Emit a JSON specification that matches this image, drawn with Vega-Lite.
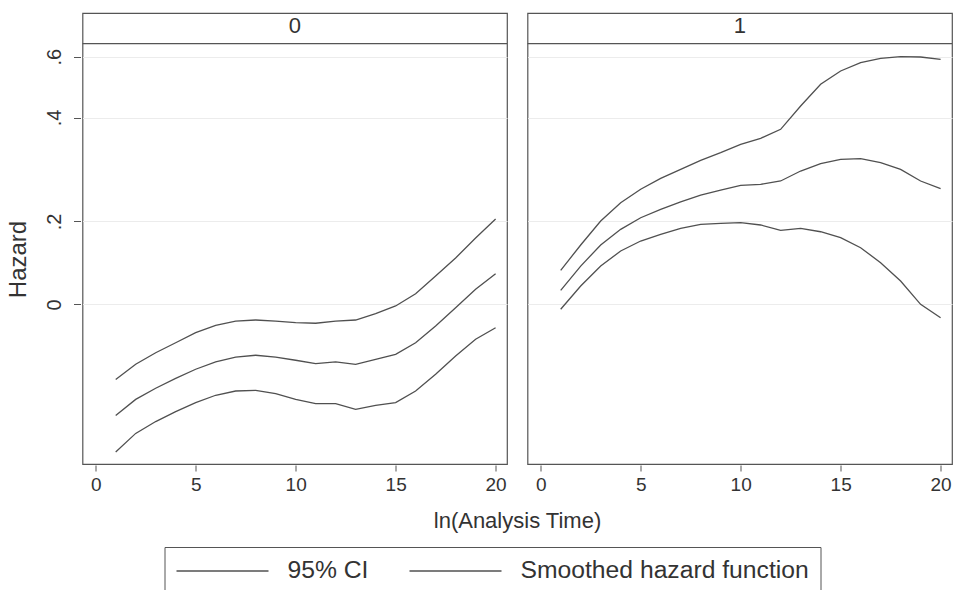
{
  "$schema": "https://vega.github.io/schema/vega-lite/v6.json",
  "padding": {"left": 6.5, "top": 12, "right": 0, "bottom": 0},
  "background": "white",
  "data": {"values": [
    {"g":"0","t":1,"s":"hi","k":"95% CI","h":0.0698},{"g":"0","t":2,"s":"hi","k":"95% CI","h":0.0772},{"g":"0","t":3,"s":"hi","k":"95% CI","h":0.0834},{"g":"0","t":4,"s":"hi","k":"95% CI","h":0.0891},{"g":"0","t":5,"s":"hi","k":"95% CI","h":0.0953},{"g":"0","t":6,"s":"hi","k":"95% CI","h":0.1001},{"g":"0","t":7,"s":"hi","k":"95% CI","h":0.1030},{"g":"0","t":8,"s":"hi","k":"95% CI","h":0.1037},{"g":"0","t":9,"s":"hi","k":"95% CI","h":0.1030},{"g":"0","t":10,"s":"hi","k":"95% CI","h":0.1019},{"g":"0","t":11,"s":"hi","k":"95% CI","h":0.1015},{"g":"0","t":12,"s":"hi","k":"95% CI","h":0.1030},{"g":"0","t":13,"s":"hi","k":"95% CI","h":0.1037},{"g":"0","t":14,"s":"hi","k":"95% CI","h":0.1082},{"g":"0","t":15,"s":"hi","k":"95% CI","h":0.1139},{"g":"0","t":16,"s":"hi","k":"95% CI","h":0.1236},{"g":"0","t":17,"s":"hi","k":"95% CI","h":0.1391},{"g":"0","t":18,"s":"hi","k":"95% CI","h":0.1568},{"g":"0","t":19,"s":"hi","k":"95% CI","h":0.1791},{"g":"0","t":20,"s":"hi","k":"95% CI","h":0.2033},
    {"g":"0","t":1,"s":"hz","k":"Smoothed hazard function","h":0.0549},{"g":"0","t":2,"s":"hz","k":"Smoothed hazard function","h":0.0611},{"g":"0","t":3,"s":"hz","k":"Smoothed hazard function","h":0.0658},{"g":"0","t":4,"s":"hz","k":"Smoothed hazard function","h":0.0703},{"g":"0","t":5,"s":"hz","k":"Smoothed hazard function","h":0.0747},{"g":"0","t":6,"s":"hz","k":"Smoothed hazard function","h":0.0785},{"g":"0","t":7,"s":"hz","k":"Smoothed hazard function","h":0.0810},{"g":"0","t":8,"s":"hz","k":"Smoothed hazard function","h":0.0820},{"g":"0","t":9,"s":"hz","k":"Smoothed hazard function","h":0.0810},{"g":"0","t":10,"s":"hz","k":"Smoothed hazard function","h":0.0793},{"g":"0","t":11,"s":"hz","k":"Smoothed hazard function","h":0.0775},{"g":"0","t":12,"s":"hz","k":"Smoothed hazard function","h":0.0785},{"g":"0","t":13,"s":"hz","k":"Smoothed hazard function","h":0.0772},{"g":"0","t":14,"s":"hz","k":"Smoothed hazard function","h":0.0798},{"g":"0","t":15,"s":"hz","k":"Smoothed hazard function","h":0.0825},{"g":"0","t":16,"s":"hz","k":"Smoothed hazard function","h":0.0891},{"g":"0","t":17,"s":"hz","k":"Smoothed hazard function","h":0.0997},{"g":"0","t":18,"s":"hz","k":"Smoothed hazard function","h":0.1126},{"g":"0","t":19,"s":"hz","k":"Smoothed hazard function","h":0.1273},{"g":"0","t":20,"s":"hz","k":"Smoothed hazard function","h":0.1412},
    {"g":"0","t":1,"s":"lo","k":"95% CI","h":0.0430},{"g":"0","t":2,"s":"lo","k":"95% CI","h":0.0487},{"g":"0","t":3,"s":"lo","k":"95% CI","h":0.0527},{"g":"0","t":4,"s":"lo","k":"95% CI","h":0.0563},{"g":"0","t":5,"s":"lo","k":"95% CI","h":0.0598},{"g":"0","t":6,"s":"lo","k":"95% CI","h":0.0628},{"g":"0","t":7,"s":"lo","k":"95% CI","h":0.0646},{"g":"0","t":8,"s":"lo","k":"95% CI","h":0.0649},{"g":"0","t":9,"s":"lo","k":"95% CI","h":0.0635},{"g":"0","t":10,"s":"lo","k":"95% CI","h":0.0611},{"g":"0","t":11,"s":"lo","k":"95% CI","h":0.0594},{"g":"0","t":12,"s":"lo","k":"95% CI","h":0.0594},{"g":"0","t":13,"s":"lo","k":"95% CI","h":0.0572},{"g":"0","t":14,"s":"lo","k":"95% CI","h":0.0587},{"g":"0","t":15,"s":"lo","k":"95% CI","h":0.0598},{"g":"0","t":16,"s":"lo","k":"95% CI","h":0.0646},{"g":"0","t":17,"s":"lo","k":"95% CI","h":0.0722},{"g":"0","t":18,"s":"lo","k":"95% CI","h":0.0816},{"g":"0","t":19,"s":"lo","k":"95% CI","h":0.0912},{"g":"0","t":20,"s":"lo","k":"95% CI","h":0.0985},
    {"g":"1","t":1,"s":"hi","k":"95% CI","h":0.1444},{"g":"1","t":2,"s":"hi","k":"95% CI","h":0.1710},{"g":"1","t":3,"s":"hi","k":"95% CI","h":0.2007},{"g":"1","t":4,"s":"hi","k":"95% CI","h":0.2267},{"g":"1","t":5,"s":"hi","k":"95% CI","h":0.2479},{"g":"1","t":6,"s":"hi","k":"95% CI","h":0.2667},{"g":"1","t":7,"s":"hi","k":"95% CI","h":0.2832},{"g":"1","t":8,"s":"hi","k":"95% CI","h":0.3007},{"g":"1","t":9,"s":"hi","k":"95% CI","h":0.3164},{"g":"1","t":10,"s":"hi","k":"95% CI","h":0.3346},{"g":"1","t":11,"s":"hi","k":"95% CI","h":0.3483},{"g":"1","t":12,"s":"hi","k":"95% CI","h":0.3698},{"g":"1","t":13,"s":"hi","k":"95% CI","h":0.4319},{"g":"1","t":14,"s":"hi","k":"95% CI","h":0.4992},{"g":"1","t":15,"s":"hi","k":"95% CI","h":0.5455},{"g":"1","t":16,"s":"hi","k":"95% CI","h":0.5765},{"g":"1","t":17,"s":"hi","k":"95% CI","h":0.5936},{"g":"1","t":18,"s":"hi","k":"95% CI","h":0.6000},{"g":"1","t":19,"s":"hi","k":"95% CI","h":0.5988},{"g":"1","t":20,"s":"hi","k":"95% CI","h":0.5897},
    {"g":"1","t":1,"s":"hz","k":"Smoothed hazard function","h":0.1264},{"g":"1","t":2,"s":"hz","k":"Smoothed hazard function","h":0.1486},{"g":"1","t":3,"s":"hz","k":"Smoothed hazard function","h":0.1710},{"g":"1","t":4,"s":"hz","k":"Smoothed hazard function","h":0.1898},{"g":"1","t":5,"s":"hz","k":"Smoothed hazard function","h":0.2051},{"g":"1","t":6,"s":"hz","k":"Smoothed hazard function","h":0.2169},{"g":"1","t":7,"s":"hz","k":"Smoothed hazard function","h":0.2278},{"g":"1","t":8,"s":"hz","k":"Smoothed hazard function","h":0.2386},{"g":"1","t":9,"s":"hz","k":"Smoothed hazard function","h":0.2467},{"g":"1","t":10,"s":"hz","k":"Smoothed hazard function","h":0.2546},{"g":"1","t":11,"s":"hz","k":"Smoothed hazard function","h":0.2563},{"g":"1","t":12,"s":"hz","k":"Smoothed hazard function","h":0.2620},{"g":"1","t":13,"s":"hz","k":"Smoothed hazard function","h":0.2800},{"g":"1","t":14,"s":"hz","k":"Smoothed hazard function","h":0.2940},{"g":"1","t":15,"s":"hz","k":"Smoothed hazard function","h":0.3028},{"g":"1","t":16,"s":"hz","k":"Smoothed hazard function","h":0.3040},{"g":"1","t":17,"s":"hz","k":"Smoothed hazard function","h":0.2960},{"g":"1","t":18,"s":"hz","k":"Smoothed hazard function","h":0.2832},{"g":"1","t":19,"s":"hz","k":"Smoothed hazard function","h":0.2620},{"g":"1","t":20,"s":"hz","k":"Smoothed hazard function","h":0.2489},
    {"g":"1","t":1,"s":"lo","k":"95% CI","h":0.1114},{"g":"1","t":2,"s":"lo","k":"95% CI","h":0.1301},{"g":"1","t":3,"s":"lo","k":"95% CI","h":0.1486},{"g":"1","t":4,"s":"lo","k":"95% CI","h":0.1643},{"g":"1","t":5,"s":"lo","k":"95% CI","h":0.1756},{"g":"1","t":6,"s":"lo","k":"95% CI","h":0.1836},{"g":"1","t":7,"s":"lo","k":"95% CI","h":0.1911},{"g":"1","t":8,"s":"lo","k":"95% CI","h":0.1963},{"g":"1","t":9,"s":"lo","k":"95% CI","h":0.1976},{"g":"1","t":10,"s":"lo","k":"95% CI","h":0.1984},{"g":"1","t":11,"s":"lo","k":"95% CI","h":0.1954},{"g":"1","t":12,"s":"lo","k":"95% CI","h":0.1886},{"g":"1","t":13,"s":"lo","k":"95% CI","h":0.1911},{"g":"1","t":14,"s":"lo","k":"95% CI","h":0.1868},{"g":"1","t":15,"s":"lo","k":"95% CI","h":0.1795},{"g":"1","t":16,"s":"lo","k":"95% CI","h":0.1679},{"g":"1","t":17,"s":"lo","k":"95% CI","h":0.1520},{"g":"1","t":18,"s":"lo","k":"95% CI","h":0.1345},{"g":"1","t":19,"s":"lo","k":"95% CI","h":0.1151},{"g":"1","t":20,"s":"lo","k":"95% CI","h":0.1053}
  ]},
  "facet": {
    "column": {
      "field": "g",
      "type": "nominal",
      "title": "ln(Analysis Time)",
      "header": {
        "labels": false,
        "titleOrient": "bottom",
        "titleFont": "Liberation Sans",
        "titleFontSize": 22,
        "titleFontWeight": "normal",
        "titleColor": "#333",
        "titlePadding": 7
      }
    }
  },
  "spacing": 17,
  "spec": {
    "width": 424.5,
    "height": 451,
    "layer": [
      {
        "mark": {"type": "line", "strokeWidth": 1.3},
        "encoding": {
          "x": {
            "field": "t", "type": "quantitative",
            "scale": {"domain": [-0.66, 20.57], "nice": false, "zero": false},
            "axis": {"title": null, "values": [0, 5, 10, 15, 20], "grid": false, "tickSize": 6, "labelPadding": 4, "labelFontSize": 19, "labelFlush": false}
          },
          "y": {
            "field": "h", "type": "quantitative",
            "scale": {"type": "log", "domain": [0.039713, 0.80293], "nice": false, "zero": false},
            "axis": {
              "title": "Hazard", "titleFontSize": 24, "titleFontWeight": "normal", "titleY": 246, "titlePadding": 14,
              "values": [0.1151, 0.2, 0.4, 0.6],
              "labelExpr": "datum.value < 0.15 ? '0' : replace(format(datum.value, '.1f'), '0.', '.')",
              "labelAngle": -90, "labelAlign": "center", "labelBaseline": "bottom", "labelPadding": 9,
              "labelFontSize": 20,
              "tickSize": 7, "grid": true, "gridColor": "#ececec", "gridWidth": 1
            }
          },
          "color": {
            "field": "k", "type": "nominal",
            "scale": {"domain": ["95% CI", "Smoothed hazard function"], "range": ["#505050", "#505050"]},
            "legend": {
              "title": null, "orient": "none", "legendX": 82, "legendY": 534, "direction": "horizontal",
              "symbolType": "stroke", "symbolSize": 8464, "symbolStrokeWidth": 1.3, "clipHeight": 26,
              "labelFontSize": 24.7, "labelFont": "Liberation Sans", "labelColor": "#333", "labelLimit": 400,
              "labelOffset": 18, "columnPadding": 40, "padding": 11,
              "strokeColor": "#555", "fillColor": "white"
            }
          },
          "detail": {"field": "s", "type": "nominal"}
        }
      },
      {
        "transform": [{"filter": "datum.t == 1 && datum.s == 'hz'"}],
        "mark": {"type": "rule", "color": "#555", "strokeWidth": 1.2},
        "encoding": {"y": {"datum": 0.65432}}
      },
      {
        "transform": [{"filter": "datum.t == 1 && datum.s == 'hz'"}],
        "mark": {"type": "text", "fontSize": 22, "color": "#333", "baseline": "alphabetic", "align": "center"},
        "encoding": {
          "x": {"datum": 9.955},
          "y": {"datum": 0.7013},
          "text": {"field": "g", "type": "nominal"}
        }
      }
    ]
  },
  "config": {
    "font": "Liberation Sans",
    "view": {"stroke": "#555", "strokeWidth": 1.2},
    "axis": {"domain": false, "tickColor": "#555", "labelColor": "#333", "titleColor": "#333", "ticks": true}
  }
}
